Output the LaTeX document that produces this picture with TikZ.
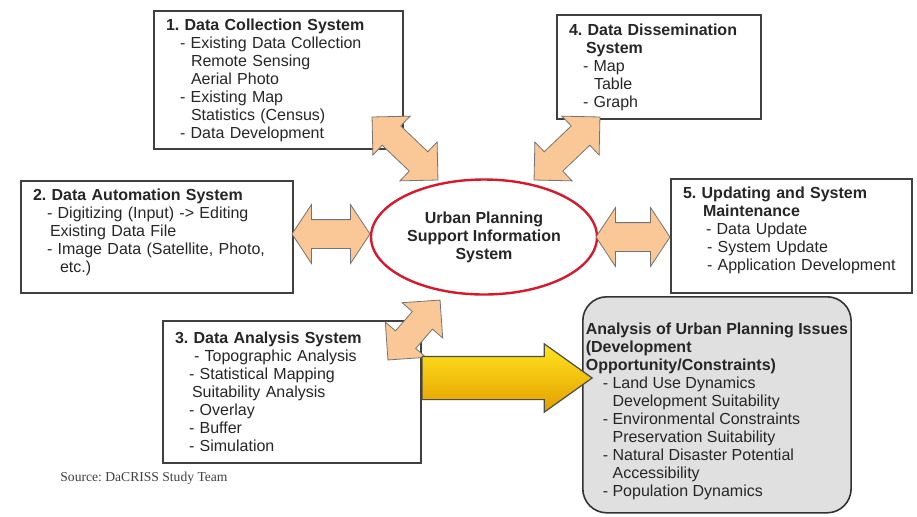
\documentclass[tikz,border=0pt]{standalone}
\usepackage{fontspec}
\setmainfont{Liberation Sans}
\newfontfamily\srcfont{Liberation Serif}
\usepackage{tikz}
\usetikzlibrary{shapes.geometric, shapes.arrows}
\frenchspacing

\definecolor{peach}{RGB}{250,200,150}
\definecolor{planred}{RGB}{215,25,45}
\definecolor{issuegray}{RGB}{224,224,224}
\definecolor{goldtop}{RGB}{255,228,30}
\definecolor{goldbot}{RGB}{228,158,0}

\newcommand{\itm}[1]{\hspace*{7pt}- #1}
\newcommand{\cnt}[1]{\hspace*{12.5pt}#1}

\begin{document}
\begin{tikzpicture}[x=0.5pt, y=-0.5pt,
    sysbox/.style={draw=black!75, line width=1pt, fill=white, anchor=north west, align=left,
      inner xsep=6pt, inner ysep=0pt, text=black!85, font=\fontsize{8}{9}\selectfont},
    bigarrow/.style={double arrow, draw=black!55, fill=peach, line width=0.4pt, inner xsep=0pt,
      inner ysep=6.5pt, double arrow head extend=6.75pt, double arrow tip angle=90},
    flatarrow/.style={bigarrow, inner ysep=7pt, double arrow head extend=7.5pt, double arrow tip angle=113}]
  \useasboundingbox (0,0) rectangle (917,516);

  % systems round the centre
  \node[sysbox, text width=112.5pt, minimum height=69pt] at (153,10) (S1) {\textbf{1. Data Collection System}\\
    \itm{Existing Data Collection}\\ \cnt{Remote Sensing}\\ \cnt{Aerial Photo}\\
    \itm{Existing Map}\\ \cnt{Statistics (Census)}\\ \itm{Data Development}};
  \node[sysbox, text width=90pt, minimum height=52pt] at (556,14) (S4) {\textbf{4. Data Dissemination}\\
    \hspace*{8.5pt}\textbf{System}\\ \itm{Map}\\ \cnt{Table}\\ \itm{Graph}};
  \node[sysbox, text width=124pt, minimum height=56pt] at (20,180) (S2) {\textbf{2. Data Automation System}\\
    \itm{Digitizing (Input) -> Editing}\\ \hspace*{8.5pt}Existing Data File\\
    \itm{Image Data (Satellite, Photo,}\\ \hspace*{13.5pt}etc.)\rule[-6.5pt]{0pt}{0pt}};
  \node[sysbox, text width=108.5pt, minimum height=57pt] at (670,178) (S5) {\textbf{5. Updating and System}\\
    \hspace*{10pt}\textbf{Maintenance}\\ \hspace*{11.5pt}- Data Update\\
    \hspace*{12pt}- System Update\\ \hspace*{12pt}- Application Development\rule[-7pt]{0pt}{0pt}};
  \node[sysbox, text width=117pt, minimum height=71pt] at (162,320) (S3) {\textbf{3. Data Analysis System}\\
    \hspace*{9.5pt}- Topographic Analysis\\ \itm{Statistical Mapping}\\ \hspace*{8.5pt}Suitability Analysis\\
    \itm{Overlay}\\ \itm{Buffer}\\ \itm{Simulation}};

  % issues
  \node[sysbox, fill=issuegray, draw=black!80, line width=0.8pt, rounded corners=12pt, inner xsep=1.5pt,
    minimum width=134pt, minimum height=108pt] at (582,296) (I) {\rule{0pt}{12pt}\textbf{Analysis of Urban Planning Issues}\\
    \textbf{(Development}\\ \textbf{Opportunity/Constraints)}\\
    \hspace*{8.5pt}- Land Use Dynamics\\ \hspace*{13.4pt}Development Suitability\\
    \hspace*{8.5pt}- Environmental Constraints\\ \hspace*{13.4pt}Preservation Suitability\\
    \hspace*{8.5pt}- Natural Disaster Potential\\ \hspace*{13.4pt}Accessibility\\
    \hspace*{8.5pt}- Population Dynamics};

  % centre
  \node[ellipse, draw=planred, line width=1.2pt, fill=white, minimum width=113pt, minimum height=57.5pt,
    inner sep=0pt, align=center, text=black!85, font=\fontsize{8}{9}\selectfont\bfseries]
    at (484,237) (U) {Urban Planning\\ Support Information\\ System};

  % links
  \node[bigarrow, minimum height=45.6pt, rotate=-43.7] at (405,148.5) (A1) {};
  \node[bigarrow, minimum height=45.6pt, rotate=43.7] at (567,148.5) (A4) {};
  \node[bigarrow, minimum height=39.7pt, rotate=49] at (414,330) (A3) {};
  \node[flatarrow, minimum height=39pt] at (331,234) (A2) {};
  \node[flatarrow, minimum height=37pt] at (633,237) (A5) {};
  \node[single arrow, draw=black!70, line width=0.6pt, top color=goldtop, bottom color=goldbot,
    inner xsep=0pt, inner ysep=10.5pt, minimum height=85pt, single arrow head extend=6.25pt,
    single arrow tip angle=71] at (492,378) (Y) {};

  \node[anchor=west, inner sep=0pt, text=black!75, font=\srcfont\fontsize{6.8}{8}\selectfont]
    at (60,478) (src) {Source: DaCRISS Study Team};
\end{tikzpicture}
\end{document}
